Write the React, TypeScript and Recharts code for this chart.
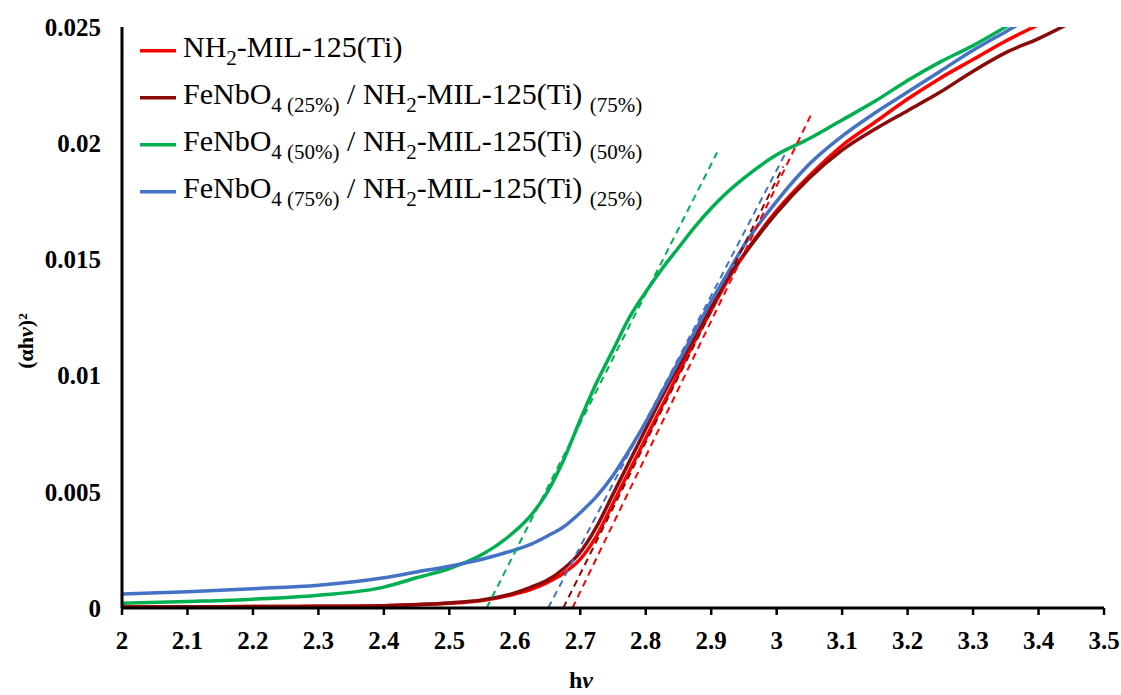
import React from 'react';
import { LineChart, Line, XAxis, YAxis, Legend } from 'recharts';

// photon energy grid (eV)
const hv = [2.0, 2.1, 2.2, 2.3, 2.4, 2.45, 2.5, 2.55, 2.6, 2.625, 2.65, 2.675, 2.7, 2.725, 2.75, 2.775, 2.8, 2.825, 2.85, 2.875, 2.9, 2.925, 2.95, 3.0, 3.05, 3.1, 3.15, 3.2, 3.25, 3.3, 3.35, 3.4, 3.45];

const nh2Mil = [0.00004, 0.00005, 0.00006, 0.00007, 0.0001, 0.00014, 0.0002, 0.00032, 0.0006, 0.0008, 0.0011, 0.0015, 0.0021, 0.0031, 0.0045, 0.0059, 0.0073, 0.0087, 0.0101, 0.0115, 0.0128, 0.0141, 0.0152, 0.0171, 0.0186, 0.0199, 0.0209, 0.0219, 0.0228, 0.0236, 0.0244, 0.0251, 0.0258];
const fe25 = [0.00004, 0.00005, 0.00006, 0.00007, 0.0001, 0.00015, 0.00022, 0.00035, 0.00065, 0.0009, 0.0012, 0.0017, 0.0024, 0.0035, 0.0049, 0.0063, 0.0077, 0.0091, 0.0104, 0.0117, 0.0130, 0.0142, 0.0152, 0.0170, 0.0185, 0.0197, 0.0206, 0.0214, 0.0222, 0.0231, 0.0239, 0.0245, 0.0252];
const fe50 = [0.0002, 0.00028, 0.00038, 0.00055, 0.0009, 0.0013, 0.0017, 0.0023, 0.0033, 0.0040, 0.0050, 0.0064, 0.0081, 0.0097, 0.0111, 0.0125, 0.0136, 0.0146, 0.0155, 0.0164, 0.0172, 0.0179, 0.0185, 0.0195, 0.0202, 0.0210, 0.0218, 0.0227, 0.0235, 0.0242, 0.0250, 0.0258, 0.0265];
const fe75 = [0.0006, 0.0007, 0.00083, 0.00098, 0.0013, 0.00155, 0.0018, 0.0021, 0.0025, 0.00275, 0.0031, 0.0035, 0.0041, 0.0048, 0.0057, 0.0068, 0.0080, 0.0093, 0.0106, 0.0119, 0.0132, 0.0144, 0.0156, 0.0175, 0.0191, 0.0203, 0.0213, 0.0222, 0.0231, 0.0240, 0.0248, 0.0256, 0.0263];

// Tauc tangent lines (x, y end points)
const tanNh2X = [2.688, 3.052];
const tanNh2Y = [0, 0.0212];
const tanFe25X = [2.674, 3.01];
const tanFe25Y = [0, 0.019];
const tanFe50X = [2.557, 2.909];
const tanFe50Y = [0, 0.0196];
const tanFe75X = [2.651, 3.014];
const tanFe75Y = [0, 0.0196];

const xTicks = [2, 2.1, 2.2, 2.3, 2.4, 2.5, 2.6, 2.7, 2.8, 2.9, 3, 3.1, 3.2, 3.3, 3.4, 3.5];
const yTicks = [0, 0.005, 0.01, 0.015, 0.02, 0.025];

const RED = '#FF0000';
const DARKRED = '#8B0A0A';
const GREEN = '#00B050';
const BLUE = '#4472C4';

const toPts = (xs: number[], ys: number[]) => xs.map((x, i) => ({ x, y: ys[i] }));

const FONT = '"Liberation Serif", "Times New Roman", serif';

const legendRows = [
  { color: RED, parts: [['NH', 0], ['2', 1], ['-MIL-125(Ti)', 0]] },
  { color: DARKRED, parts: [['FeNbO', 0], ['4 (25%)', 1], [' / NH', 0], ['2', 1], ['-MIL-125(Ti) ', 0], ['(75%)', 1]] },
  { color: GREEN, parts: [['FeNbO', 0], ['4 (50%)', 1], [' / NH', 0], ['2', 1], ['-MIL-125(Ti) ', 0], ['(50%)', 1]] },
  { color: BLUE, parts: [['FeNbO', 0], ['4 (75%)', 1], [' / NH', 0], ['2', 1], ['-MIL-125(Ti) ', 0], ['(25%)', 1]] },
];

const LegendContent = () => (
  <svg width={600} height={200} style={{ overflow: 'visible' }}>
    {legendRows.map((r, i) => {
      let prevSub = 0;
      return (
        <g key={i}>
          <line x1={10} x2={46} y1={30.7 + 47 * i} y2={30.7 + 47 * i} stroke={r.color} strokeWidth={3.5} />
          <text x={53} y={37.3 + 47 * i} fontSize={30} fill="#000" style={{ whiteSpace: 'pre', fontFamily: FONT }}>
            {r.parts.map((p, j) => {
              const sub = p[1] as number;
              const dy = sub === prevSub ? 0 : sub ? 8 : -8;
              prevSub = sub;
              return (
                <tspan key={j} dy={dy} fontSize={sub ? 21 : 30}>
                  {p[0] as string}
                </tspan>
              );
            })}
          </text>
        </g>
      );
    })}
  </svg>
);

const boldStyle: React.CSSProperties = { fontFamily: FONT, fontWeight: 'bold' };

const YTitle = () => (
  <text
    x={25}
    y={341}
    transform="rotate(-90, 25, 341)"
    textAnchor="middle"
    dominantBaseline="central"
    fontSize={22}
    fill="#000"
    style={boldStyle}
  >
    (αh<tspan fontStyle="italic">ν</tspan>)²
  </text>
);

const XTitle = () => (
  <text x={581} y={688} textAnchor="middle" fontSize={24} fill="#000" style={boldStyle}>
    h<tspan fontStyle="italic">ν</tspan>
  </text>
);

export default function App() {
  const tick = { fontSize: 25, fill: '#000', style: boldStyle };
  return (
    <div style={{ position: 'absolute', left: 0, top: 0, width: 1121, height: 695, background: '#fff' }}>
      <LineChart width={1121} height={695} margin={{ top: 27, right: 17, left: 22, bottom: 0 }}>
        <XAxis
          dataKey="x"
          type="number"
          domain={[2, 3.5]}
          ticks={xTicks}
          allowDataOverflow
          height={87}
          tick={tick}
          tickFormatter={(v: number) => String(v)}
          axisLine={{ stroke: '#000', strokeWidth: 3 }}
          tickLine={{ stroke: '#000', strokeWidth: 2.5 }}
          tickSize={7}
          tickMargin={16}
          label={{ content: <XTitle /> }}
        />
        <YAxis
          type="number"
          domain={[0, 0.025]}
          ticks={yTicks}
          allowDataOverflow
          width={100}
          tick={tick}
          tickFormatter={(v: number) => String(v)}
          axisLine={{ stroke: '#000', strokeWidth: 3 }}
          tickLine={false}
          tickSize={0}
          tickMargin={21}
          label={{ content: <YTitle /> }}
        />
        <Legend
          layout="vertical"
          align="center"
          verticalAlign="middle"
          content={<LegendContent />}
          wrapperStyle={{ left: 130, top: 20, width: 600, height: 200 }}
        />
        <Line data={toPts(hv, nh2Mil)} dataKey="y" type="monotone" stroke={RED} strokeWidth={3.5} dot={false} activeDot={false} isAnimationActive={false} />
        <Line data={toPts(hv, fe25)} dataKey="y" type="monotone" stroke={DARKRED} strokeWidth={3.5} dot={false} activeDot={false} isAnimationActive={false} />
        <Line data={toPts(hv, fe50)} dataKey="y" type="monotone" stroke={GREEN} strokeWidth={3.5} dot={false} activeDot={false} isAnimationActive={false} />
        <Line data={toPts(hv, fe75)} dataKey="y" type="monotone" stroke={BLUE} strokeWidth={3.5} dot={false} activeDot={false} isAnimationActive={false} />
        <Line data={toPts(tanNh2X, tanNh2Y)} dataKey="y" type="linear" stroke={RED} strokeWidth={2} strokeDasharray="7 5" dot={false} activeDot={false} isAnimationActive={false} />
        <Line data={toPts(tanFe25X, tanFe25Y)} dataKey="y" type="linear" stroke={DARKRED} strokeWidth={2} strokeDasharray="7 5" dot={false} activeDot={false} isAnimationActive={false} />
        <Line data={toPts(tanFe50X, tanFe50Y)} dataKey="y" type="linear" stroke={GREEN} strokeWidth={2} strokeDasharray="7 5" dot={false} activeDot={false} isAnimationActive={false} />
        <Line data={toPts(tanFe75X, tanFe75Y)} dataKey="y" type="linear" stroke={BLUE} strokeWidth={2} strokeDasharray="7 5" dot={false} activeDot={false} isAnimationActive={false} />
      </LineChart>
    </div>
  );
}
